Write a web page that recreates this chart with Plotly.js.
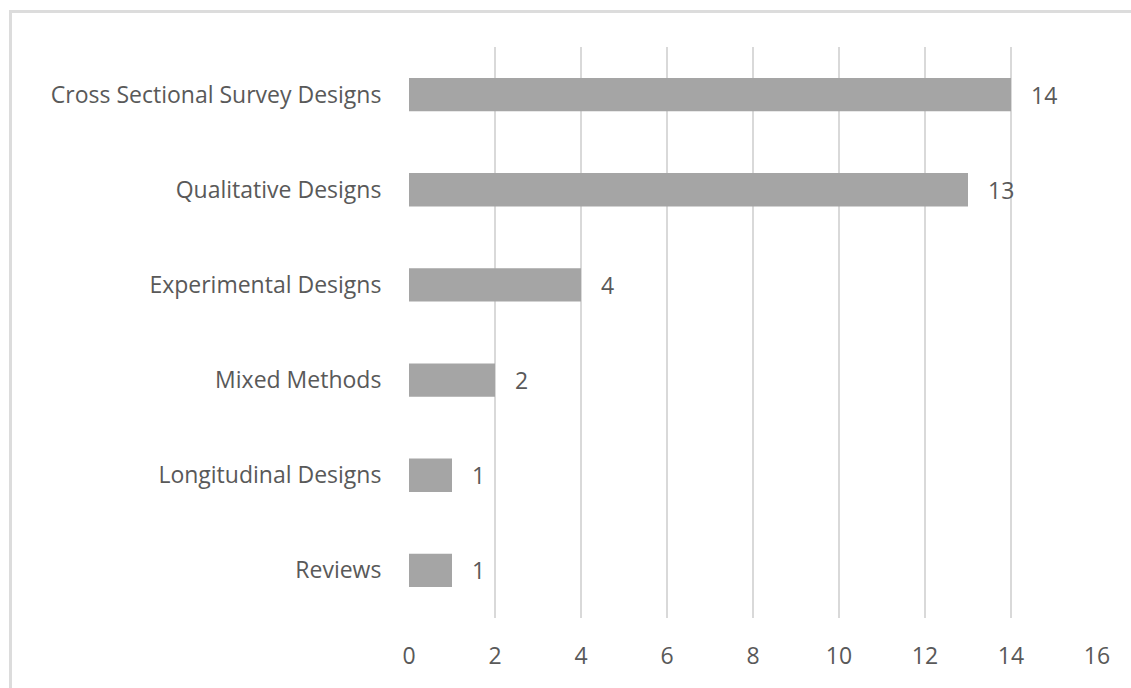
<!DOCTYPE html>
<html>
<head>
<meta charset="utf-8">
<script src="https://cdn.plot.ly/plotly-3.0.1.min.js"></script>
<style>
  html, body { margin: 0; padding: 0; background: #ffffff; }
  #wrap { position: relative; width: 1131px; height: 688px; overflow: hidden; }
  #chart { position: absolute; left: 0; top: 0; width: 1131px; height: 688px; }
  #frame { position: absolute; left: 9px; top: 10px; width: 1200px; height: 800px;
           border-left: 3px solid #dcdcdc; border-top: 3px solid #dcdcdc; pointer-events: none; }
</style>
</head>
<body>
<div id="wrap">
  <div id="chart"></div>
  <div id="frame"></div>
</div>
<script>
const categories = [
  "Cross Sectional Survey Designs",
  "Qualitative Designs",
  "Experimental Designs",
  "Mixed Methods",
  "Longitudinal Designs",
  "Reviews"
];
const counts = [14, 13, 4, 2, 1, 1];
const xTickValues = [0, 2, 4, 6, 8, 10, 12, 14, 16];

const fontFamily = "Open Sans, Liberation Sans, sans-serif";
const fontSize = 23;
const textColor = "#595959";

const trace = {
  type: "bar",
  orientation: "h",
  x: counts,
  y: categories,
  marker: { color: "#a5a5a5" },
  hoverinfo: "none"
};

const annotations = categories.map((c, i) => ({
  x: counts[i],
  y: c,
  xref: "x",
  yref: "y",
  text: String(counts[i]),
  showarrow: false,
  xanchor: "left",
  yanchor: "middle",
  xshift: 18,
  font: { family: fontFamily, size: fontSize, color: textColor }
}));

const layout = {
  width: 1131,
  height: 688,
  margin: { l: 409, r: 34, t: 47, b: 70 },
  paper_bgcolor: "#ffffff",
  plot_bgcolor: "#ffffff",
  showlegend: false,
  bargap: 0.65,
  font: { family: fontFamily, size: fontSize, color: textColor },
  xaxis: {
    range: [0, 16],
    tickvals: xTickValues,
    ticktext: xTickValues.map(String),
    showgrid: true,
    gridcolor: "#d9d9d9",
    gridwidth: 2,
    zeroline: false,
    showline: false,
    ticks: "outside",
    ticklen: 17,
    tickcolor: "rgba(0,0,0,0)",
    tickfont: { family: fontFamily, size: fontSize, color: textColor },
    fixedrange: true
  },
  yaxis: {
    type: "category",
    autorange: "reversed",
    showgrid: false,
    zeroline: false,
    showline: false,
    ticks: "outside",
    ticklen: 22,
    tickcolor: "rgba(0,0,0,0)",
    tickfont: { family: fontFamily, size: fontSize, color: textColor },
    fixedrange: true
  },
  annotations: annotations
};

Plotly.newPlot("chart", [trace], layout, { staticPlot: true, displayModeBar: false });
</script>
</body>
</html>
